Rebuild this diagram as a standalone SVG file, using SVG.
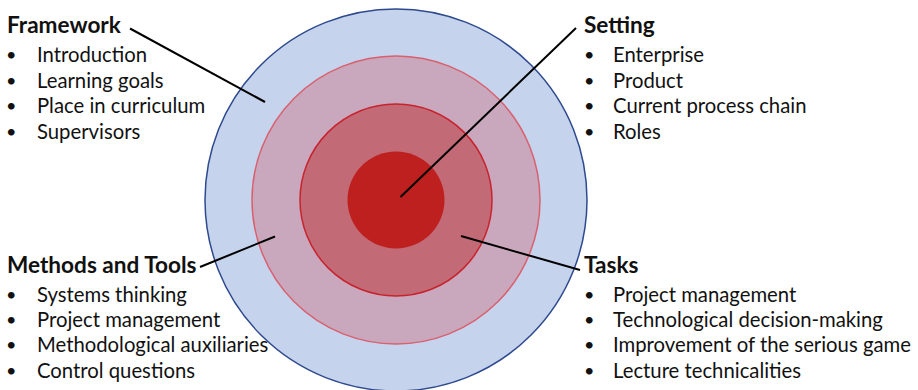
<svg xmlns="http://www.w3.org/2000/svg" width="918" height="390" viewBox="0 0 918 390">
<style>
text{font-family:Lato,"Liberation Sans",sans-serif;fill:#111;}
.t{font-size:22.6px;font-weight:bold;}
.i{font-size:20.3px;}
.b{font-size:18px;}
.c{stroke:#000;stroke-width:2;fill:none;}
</style>
<rect width="918" height="390" fill="#fff"/>
<g id="target">
<circle id="ring4" cx="396" cy="200" r="191" fill="#C5D3EC" stroke="#2E4A8E" stroke-width="1.5"/>
<circle id="ring3" cx="396" cy="200" r="144" fill="#C9A8BD" stroke="#D9606E" stroke-width="1.5"/>
<circle id="ring2" cx="396" cy="200" r="96" fill="#C26B76" stroke="#C8222E" stroke-width="1.5"/>
<circle id="ring1" cx="396" cy="200" r="48.5" fill="#BE1F1F"/>
</g>
<g id="connectors">
<line class="c" x1="130" y1="28.5" x2="265" y2="102"/>
<line class="c" x1="400.5" y1="197" x2="576" y2="28"/>
<line class="c" x1="200" y1="267" x2="275" y2="236.5"/>
<line class="c" x1="461" y1="236" x2="580" y2="270"/>
</g>
<g id="framework">
<text class="t" x="7" y="33">Framework</text>
<text class="b" x="6" y="61">•</text><text class="i" x="37" y="62">Introduction</text>
<text class="b" x="6" y="86.5">•</text><text class="i" x="37" y="87.5">Learning goals</text>
<text class="b" x="6" y="112">•</text><text class="i" x="37" y="113">Place in curriculum</text>
<text class="b" x="6" y="138">•</text><text class="i" x="37" y="139">Supervisors</text>
</g>
<g id="setting">
<text class="t" x="584" y="33">Setting</text>
<text class="b" x="584" y="61">•</text><text class="i" x="613" y="62">Enterprise</text>
<text class="b" x="584" y="86.5">•</text><text class="i" x="613" y="87.5">Product</text>
<text class="b" x="584" y="112">•</text><text class="i" x="613" y="113">Current process chain</text>
<text class="b" x="584" y="138">•</text><text class="i" x="613" y="139">Roles</text>
</g>
<g id="methods">
<text class="t" x="7" y="273">Methods and Tools</text>
<text class="b" x="6" y="301">•</text><text class="i" x="37" y="302">Systems thinking</text>
<text class="b" x="6" y="326">•</text><text class="i" x="37" y="327">Project management</text>
<text class="b" x="6" y="351">•</text><text class="i" x="37" y="352">Methodological auxiliaries</text>
<text class="b" x="6" y="377">•</text><text class="i" x="37" y="378">Control questions</text>
</g>
<g id="tasks">
<text class="t" x="584" y="273">Tasks</text>
<text class="b" x="584" y="301">•</text><text class="i" x="613" y="302">Project management</text>
<text class="b" x="584" y="326">•</text><text class="i" x="613" y="327">Technological decision-making</text>
<text class="b" x="584" y="351">•</text><text class="i" x="613" y="352">Improvement of the serious game</text>
<text class="b" x="584" y="377">•</text><text class="i" x="613" y="378">Lecture technicalities</text>
</g>
</svg>
